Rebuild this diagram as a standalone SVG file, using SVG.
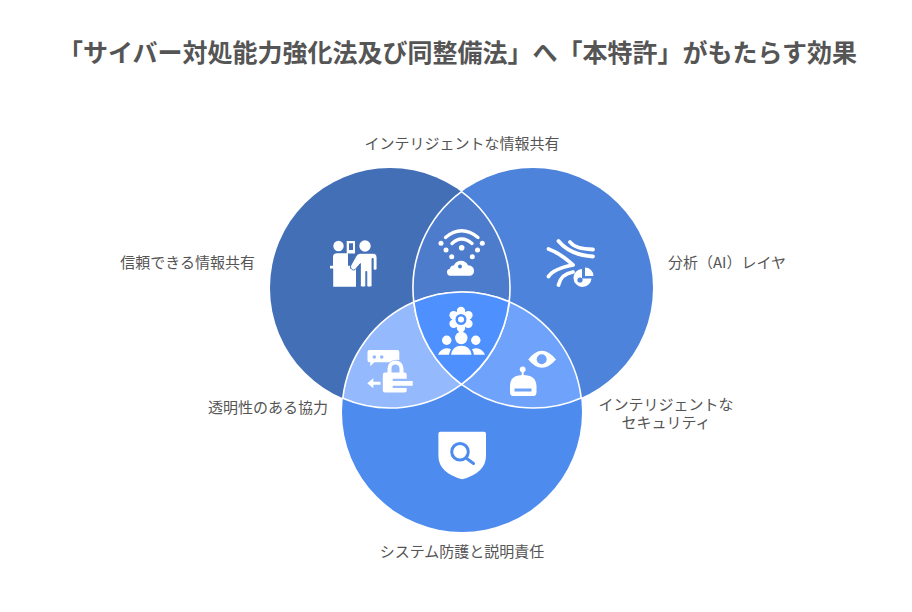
<svg xmlns="http://www.w3.org/2000/svg" width="912" height="612" viewBox="0 0 912 612">
<style>
text{font-family:"Noto Sans CJK JP","Noto Sans",sans-serif;fill:#555;font-size:15px}
.t{font-size:25px;font-weight:700;text-anchor:middle}
.m{text-anchor:middle}.e{text-anchor:end}
.lens{stroke:#fff;stroke-width:1.6}
.w{fill:#fff}.l{fill:none;stroke:#fff;stroke-linecap:round}
</style>
<rect width="912" height="612" fill="#fff"/>
<text class="t" x="457.500" y="62">「サイバー対処能力強化法及び同整備法」へ「本特許」がもたらす効果</text>
<g id="connectors"></g>
<g id="node-left"><circle cx="390" cy="288" r="120" fill="#436FB6"/></g>
<g id="node-right"><circle cx="533" cy="288" r="120" fill="#4D83DB"/></g>
<g id="node-bottom"><circle cx="462" cy="412" r="120" fill="#4D8BEF"/></g>
<g id="lens-top"><path class="lens" fill="#4D7CCC" d="M461.500 191.600A120 120 0 0 1 509.200 301.700A120 120 0 0 0 413.800 302.100A120 120 0 0 1 461.500 191.600Z"/></g>
<g id="lens-left"><path class="lens" fill="#94B9FC" d="M342.800 398.300A120 120 0 0 1 413.800 302.100A120 120 0 0 0 461.500 384.400A120 120 0 0 1 342.800 398.300Z"/></g>
<g id="lens-right"><path class="lens" fill="#6FA3FB" d="M509.200 301.700A120 120 0 0 1 581.200 397.900A120 120 0 0 1 461.500 384.400A120 120 0 0 0 509.200 301.700Z"/></g>
<g id="lens-center"><path class="lens" fill="#4D90FE" d="M413.800 302.100A120 120 0 0 1 509.200 301.700A120 120 0 0 1 461.500 384.400A120 120 0 0 1 413.800 302.100Z"/></g>
<g id="icon-people">
<circle class="w" cx="338.500" cy="246" r="5.200"/><circle class="w" cx="365" cy="246" r="5.700"/>
<path class="w" d="M346.700 241h8.300v12.500h-8.300z"/><path d="M349 243.300h4v6.700h-4z" fill="#436FB6"/>
<path class="w" d="M333 266v-9q0-3.700 4-3.700h11v12.700z"/>
<path class="w" d="M330 265.700h20v2.700l6 0v18.300h-22.800v-18.300h-3.200z"/>
<path class="w" d="M357.500 253.300h15.500q4 0 4 3.700v11.500q0 1.800-1.900 1.800t-1.900-1.800v-10h-1.200v27q0 1.500-2 1.500h-1.400q-1.800 0-1.800-1.500v-14h-1v14q0 1.500-1.800 1.500h-1.600q-2 0-2-1.500v-22l-5.200 6q-2 1.500-3.800-.5t-.4-4l4.800-8.500q1.500-2.700 3.700-3.200z" stroke="#436FB6" stroke-width="0.900"/>
</g>
<g id="icon-wifi">
<path class="l" stroke-width="3.400" d="M445.500 237.500Q461.500 224 478 237.500M452 243.500Q461.500 234.500 472 243.500"/>
<circle class="w" cx="461.700" cy="247.700" r="2.800"/><circle class="w" cx="441" cy="243.300" r="2.500"/><circle class="w" cx="482.300" cy="243.300" r="2.500"/><circle class="w" cx="446" cy="250" r="2.500"/><circle class="w" cx="477.500" cy="250" r="2.500"/><circle class="w" cx="451.700" cy="256.700" r="2.500"/><circle class="w" cx="472.300" cy="256.700" r="2.500"/>
<path class="w" d="M451 275.700a3.500 3.500 0 0 1-1-7q0-3 4-3.500q2-4.500 7-4.500q5 0 7 4.500q6 .5 6 5.500a5 5 0 0 1-4 5z"/>
<circle cx="460" cy="266.500" r="2" fill="#4D7CCC"/>
</g>
<g id="icon-wind">
<path class="l" stroke-width="3.800" d="M570 242Q575 249 593 249.500M558.500 241Q570 255 593 256.500M548.500 249Q560 253 573 265M548.500 276.500Q553 269 573 265M558.500 285Q561 274 573 272"/>
<path class="w" d="M582 269a9 9 0 1 0 9.500 9.500h-9.500z"/>
<path class="w" d="M585 267.500a8.500 8.500 0 0 1 8.500 8.500h-8.500z"/>
<circle cx="580" cy="280" r="2.600" fill="#4D83DB"/>
</g>
<g id="icon-center">
<circle class="w" cx="461" cy="319.500" r="9"/>
<circle class="w" cx="461" cy="311" r="4.200"/><circle class="w" cx="461" cy="328" r="4.200"/><circle class="w" cx="453.600" cy="315.200" r="4.200"/><circle class="w" cx="468.400" cy="315.200" r="4.200"/><circle class="w" cx="453.600" cy="323.800" r="4.200"/><circle class="w" cx="468.400" cy="323.800" r="4.200"/>
<circle cx="461" cy="319.500" r="5.500" fill="#4D90FE"/><circle class="w" cx="461" cy="319.500" r="3"/>
<circle class="w" cx="446.700" cy="340.300" r="4.700"/><circle class="w" cx="461.300" cy="338" r="6.200"/><circle class="w" cx="475.800" cy="340.300" r="4.700"/>
<path class="w" d="M451 354.700q1.500-9 10.300-9t10.300 9z"/>
<path class="w" d="M438 354.700q3-6.500 8.500-6.500q2.500 0 4.500 1q-1.500 2.500-2 5.500z"/><path class="w" d="M485 354.700q-3-6.500-8.500-6.500q-2.500 0-4.500 1q1.500 2.500 2 5.500z"/>
</g>
<g id="icon-lock">
<path class="w" d="M369.500 350h27.800q2 0 2 2v8q-6-1-10 2.300h-15l-4 4v-4h-.8q-2 0-2-2v-8.300q0-2 2-2z"/>
<circle cx="374.300" cy="357" r="1.800" fill="#94B9FC"/><circle cx="381.700" cy="357" r="1.800" fill="#94B9FC"/>
<path d="M389.500 373v-4.500a6 6 0 0 1 12 0v4.500" fill="none" stroke="#fff" stroke-width="4"/>
<path class="w" d="M385 372.500h19.500q2.200 0 2.200 2v4.300h-14v2.300h20v4.600h-20v2.300h14v2.500q0 2-2.200 2h-19.500q-2.200 0-2.200-2v-16q0-2 2.200-2z"/>
<path class="w" d="M367.300 383.300l6-5v3.500h7.200v3h-7.200v3.500z"/>
</g>
<g id="icon-eye-robot">
<path class="w" d="M528.300 359.500Q541.700 342 556 359.500Q541.700 376 528.300 359.500Z"/>
<circle cx="541.700" cy="359.300" r="5" fill="#6FA3FB"/>
<circle class="w" cx="522.700" cy="369.300" r="2.900"/><path class="w" d="M521.700 371h2v5h-2z"/>
<path class="w" d="M510 392v-6q0-11 13-11t13.500 11v6q0 4-3 4h-20.500q-3 0-3-4z"/>
<path d="M514.500 388.500h17v3h-17z" fill="#6FA3FB"/>
</g>
<g id="icon-shield">
<path class="w" d="M440.500 431.700h43.500q2 0 2 2v22q0 17-23.800 23.600q-23.800-6.600-23.800-23.600v-22q0-2 2.100-2z"/>
<circle cx="460" cy="451.700" r="8.300" fill="none" stroke="#4D8BEF" stroke-width="3"/>
<path d="M466 458l7.500 5.500" fill="none" stroke="#4D8BEF" stroke-width="3" stroke-linecap="round"/>
</g>
<g id="labels">
<text class="m" x="462" y="148.500">インテリジェントな情報共有</text>
<text class="e" x="255" y="268">信頼できる情報共有</text>
<text x="668" y="268">分析（AI）レイヤ</text>
<text class="e" x="328" y="413">透明性のある協力</text>
<text class="m" y="409.500"><tspan x="666">インテリジェントな</tspan><tspan x="666" dy="18">セキュリティ</tspan></text>
<text class="m" x="462" y="556.500">システム防護と説明責任</text>
</g>
</svg>
